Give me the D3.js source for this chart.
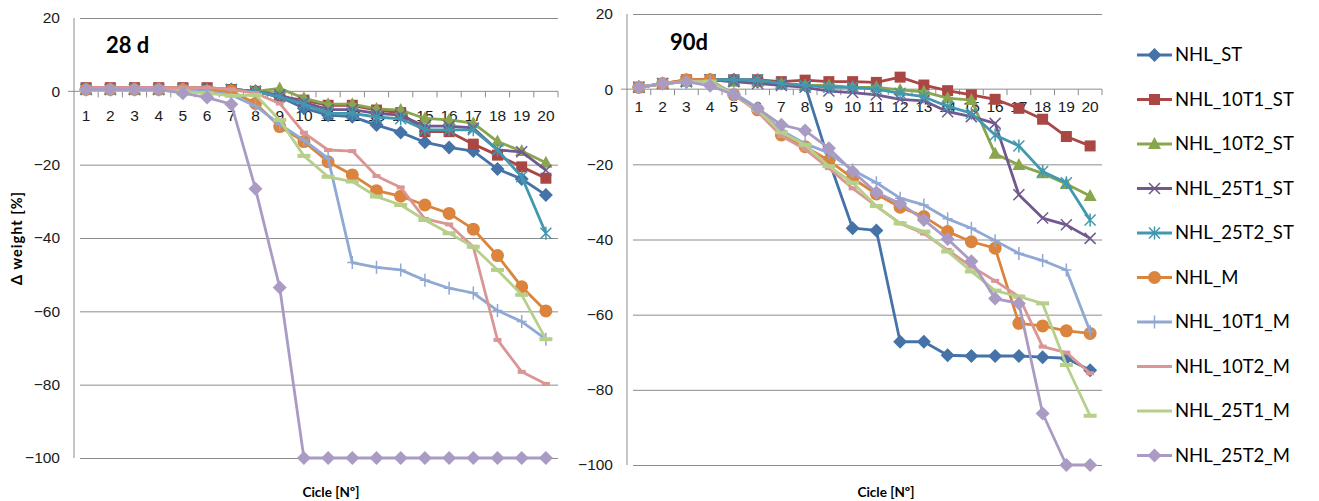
<!DOCTYPE html>
<html>
<head>
<meta charset="utf-8">
<script src="https://cdn.jsdelivr.net/npm/d3@7"></script>
<style>
  body { margin: 0; background: #fff; }
  svg { font-family: Lato, "Liberation Sans", sans-serif; }
</style>
</head>
<body>
<div id="chart"></div>
<script>
// categories
const cycles = [1, 2, 3, 4, 5, 6, 7, 8, 9, 10, 11, 12, 13, 14, 15, 16, 17, 18, 19, 20]
const yTicks = [20, 0, -20, -40, -60, -80, -100]
const seriesNames = ["NHL_ST", "NHL_10T1_ST", "NHL_10T2_ST", "NHL_25T1_ST", "NHL_25T2_ST",
    "NHL_M", "NHL_10T1_M", "NHL_10T2_M", "NHL_25T1_M", "NHL_25T2_M"]

// 28 d
const st_28 = [0.5, 0.5, 0.5, 0.5, 0.5, 0.5, 0.5, 0, -1.5, -4.6, -6.5, -6.9, -9.2, -11.2, -13.9, -15.3, -16.3, -21.2, -23.9, -28.3]
const t1st_10_28 = [1, 1, 1, 1, 1, 1, 0.5, 0, -1.5, -2.4, -3.8, -3.8, -5.1, -5.8, -11, -11, -14.4, -17.4, -20.6, -23.7]
const t2st_10_28 = [0.5, 0.5, 0.5, 0.5, 0.5, 0.5, 0.5, 0, 0.8, -1.9, -3.5, -3.5, -4.8, -5.1, -7.4, -7.8, -8.7, -13.7, -16.3, -19.5]
const t1st_25_28 = [0.5, 0.5, 0.5, 0.5, 0.5, 0.5, 0.5, 0, -1, -3, -5, -5, -6, -6.5, -9.5, -9.5, -10, -16, -16.5, -21.5]
const t2st_25_28 = [0.5, 0.5, 0.5, 0.5, 0.5, 0.5, 0.5, 0, -1.5, -3.5, -6, -6, -7, -7.5, -10.5, -10.5, -10.5, -16, -23.3, -38.7]
const m_28 = [0.5, 0.5, 0.5, 0.5, 0.5, 0, 0, -3.3, -9.6, -13.7, -19.2, -22.8, -27.1, -28.6, -31, -33.3, -37.6, -44.8, -53.3, -59.9]
const t1m_10_28 = [0.5, 0.5, 0.5, 0.5, 0.5, 0, -1, -4, -9, -13.3, -18.3, -46.7, -48, -48.7, -51.5, -53.7, -55, -59.8, -62.8, -67.6]
const t2m_10_28 = [1, 1, 1, 1, 1, 1, 0.5, -0.5, -3.3, -11.3, -16, -16.3, -23.1, -26.2, -34.8, -36.3, -42.4, -67.8, -76.5, -79.8]
const t1m_25_28 = [0.3, 0.3, 0.3, 0.3, 0, -0.5, -1.2, -1, -7.8, -17.6, -23.3, -24.6, -28.7, -31, -35.1, -38.7, -42.4, -48.7, -55.5, -67.6]
const t2m_25_28 = [0.5, 0.5, 0.5, 0.5, -0.5, -1.7, -3.5, -26.6, -53.5, -100, -100, -100, -100, -100, -100, -100, -100, -100, -100, -100]

// 90 d
const st_90 = [0.5, 1.5, 2, 2.5, 2.5, 2, 1.5, 1, -19, -37, -37.6, -67.2, -67.2, -70.8, -71, -71, -71, -71.3, -71.6, -74.8]
const t1st_10_90 = [0.5, 1.5, 2.5, 2.5, 2.5, 2.5, 2, 2.4, 2, 2, 1.8, 3.2, 1.1, -0.4, -1.5, -2.7, -5.1, -8, -12.6, -15.1]
const t2st_10_90 = [0.5, 1.5, 2, 2.5, 2, 2, 1.5, 1, 1, 0.5, 0.5, -0.2, -0.7, -2.4, -2.9, -17.2, -20.2, -22.4, -25.2, -28.4]
const t1st_25_90 = [0.5, 1.5, 2, 2.5, 2, 1.5, 1, 0.5, -0.5, -0.9, -1.5, -2.7, -3.1, -6, -7.3, -9.1, -28.1, -34.3, -36.1, -39.7]
const t2st_25_90 = [0.5, 1.5, 2, 2.5, 2.5, 2.5, 1.5, 1, 0.5, 0.5, 0, -1.1, -2, -4.6, -6.4, -12.2, -15.1, -21.9, -24.9, -34.8]
const m_90 = [0.5, 1.5, 2.5, 2.5, -1.5, -5.5, -12.2, -15.3, -19, -23.7, -27.9, -31.4, -33.9, -37.9, -40.6, -42.3, -62.3, -63, -64.3, -65]
const t1m_10_90 = [0.5, 1.5, 2, 2, -1, -5, -11, -14.5, -17, -21.5, -24.9, -29, -30.8, -34.5, -37, -40.3, -43.7, -45.6, -48.1, -64.5]
const t2m_10_90 = [0.5, 1.5, 2, 2, -1.5, -6, -12.5, -16, -21, -26.4, -31.1, -35.7, -38.4, -42.8, -47.2, -51, -55.2, -68.5, -70.1, -75.6]
const t1m_25_90 = [0.5, 1.5, 2, 2, -1.5, -5.5, -11.5, -14.8, -20.5, -24.9, -31.1, -35.7, -37.9, -43.2, -48.5, -53.6, -55.2, -57, -73.4, -86.9]
const t2m_25_90 = [0.5, 1.5, 2, 0.9, -1.5, -5.1, -9.5, -11, -15.7, -21.9, -27.5, -30.4, -34.8, -39.9, -45.8, -55.7, -57, -86.3, -100, -100]

const data28 = [st_28, t1st_10_28, t2st_10_28, t1st_25_28, t2st_25_28, m_28, t1m_10_28, t2m_10_28, t1m_25_28, t2m_25_28]
const data90 = [st_90, t1st_10_90, t2st_10_90, t1st_25_90, t2st_25_90, m_90, t1m_10_90, t2m_10_90, t1m_25_90, t2m_25_90]

// styles
const colors = ["#4572a7", "#aa4643", "#89a54e", "#71588f", "#4198af",
    "#db843d", "#8fa8d4", "#d99694", "#b6cf8a", "#a99bc4"]
const markers = ["diamond", "square", "triangle", "x", "star", "circle", "plus", "dash", "longdash", "diamond"]

function drawMarker(g, type, color) {
    if (type == "diamond") {
        g.append("path").attr("d", "M0,-7L7,0L0,7L-7,0Z").attr("fill", color)
    } else if (type == "square") {
        g.append("rect").attr("x", -5.5).attr("y", -5.5).attr("width", 11).attr("height", 11).attr("fill", color)
    } else if (type == "triangle") {
        g.append("path").attr("d", "M0,-7L6.5,5L-6.5,5Z").attr("fill", color)
    } else if (type == "circle") {
        g.append("circle").attr("r", 6.5).attr("fill", color)
    } else if (type == "x") {
        g.append("path").attr("d", "M-5.5,-5.5L5.5,5.5M-5.5,5.5L5.5,-5.5")
            .attr("stroke", color).attr("stroke-width", 1.5)
    } else if (type == "star") {
        g.append("path").attr("d", "M-5.5,-5.5L5.5,5.5M-5.5,5.5L5.5,-5.5M0,-6.5L0,6.5")
            .attr("stroke", color).attr("stroke-width", 1.5)
    } else if (type == "plus") {
        g.append("path").attr("d", "M0,-6.5L0,6.5M-5,0L5,0")
            .attr("stroke", color).attr("stroke-width", 1.5)
    } else if (type == "dash") {
        g.append("rect").attr("x", -4).attr("y", -2).attr("width", 8).attr("height", 4).attr("fill", color)
    } else if (type == "longdash") {
        g.append("rect").attr("x", -6.5).attr("y", -2).attr("width", 13).attr("height", 4).attr("fill", color)
    }
}

function drawChart() {

  //Draw Canvas
    const svg = d3.select("#chart")
        .append("svg")
            .attr("width", 1319)
            .attr("height", 501)

    const panels = [
        { title: "28 d", data: data28, left: 74, right: 558, top: 18, bottom: 458,
          titleX: 106, titleY: 53, labelGap: 27, axisTitleX: 331 },
        { title: "90d", data: data90, left: 627, right: 1102, top: 14, bottom: 465,
          titleX: 670, titleY: 50, labelGap: 20, axisTitleX: 886 },
    ]

    panels.forEach(p => {
        const xScale = d3.scaleBand()
            .domain(cycles)
            .range([p.left, p.right])
        const yScale = d3.scaleLinear()
            .domain([-100, 20])
            .range([p.bottom, p.top])

        const g = svg.append("g")

      //Gridlines and y axis
        const yAxis = g.append("g")
            .attr("transform", `translate(${p.left},0)`)
            .call(d3.axisLeft(yScale)
                .tickValues(yTicks)
                .tickSize(-(p.right - p.left))
                .tickPadding(14))
        yAxis.select(".domain").remove()
        yAxis.selectAll(".tick line")
            .attr("stroke", "#8c8c8c")
            .attr("x1", 6)
            .attr("stroke-width", 1)
        yAxis.selectAll(".tick").filter(d => d == 0).select("line").remove()
        yAxis.selectAll(".tick text")
            .attr("fill", "#1a1a1a")
            .style("font-size", "15.5px")

        g.append("line")
            .attr("x1", p.left).attr("x2", p.left)
            .attr("y1", p.top).attr("y2", p.bottom)
            .attr("stroke", "#8c8c8c")

      //X axis at zero
        const xAxis = g.append("g")
            .attr("transform", `translate(0,${yScale(0)})`)
            .call(d3.axisBottom(xScale).tickSize(0).tickPadding(p.labelGap - 8))
        xAxis.select(".domain")
            .attr("stroke", "#8c8c8c")
            .attr("d", `M${p.left - 6},0H${p.right}`)
        xAxis.selectAll(".tick text")
            .attr("fill", "#1a1a1a")
            .style("font-size", "15.5px")
        g.append("g")
            .selectAll("line")
            .data(cycles)
            .join("line")
                .attr("x1", d => xScale(d) + xScale.bandwidth())
                .attr("x2", d => xScale(d) + xScale.bandwidth())
                .attr("y1", yScale(0))
                .attr("y2", yScale(0) + 6)
                .attr("stroke", "#8c8c8c")

      //Draw Data
        const line = d3.line()
            .x((d, i) => xScale(cycles[i]) + xScale.bandwidth() / 2)
            .y(d => yScale(d))

        p.data.forEach((values, s) => {
            g.append("path")
                .datum(values)
                .attr("d", line)
                .attr("fill", "none")
                .attr("stroke", colors[s])
                .attr("stroke-width", 2.8)
                .attr("stroke-linejoin", "round")
            values.forEach((v, i) => {
                const m = g.append("g")
                    .attr("transform", `translate(${xScale(cycles[i]) + xScale.bandwidth() / 2},${yScale(v)})`)
                drawMarker(m, markers[s], colors[s])
            })
        })

      //Labels
        g.append("text")
            .attr("x", p.titleX)
            .attr("y", p.titleY)
            .attr("font-weight", 700)
            .style("font-size", "22px")
            .attr("fill", "#000")
            .text(p.title)

        g.append("text")
            .attr("x", p.axisTitleX)
            .attr("y", 497)
            .attr("text-anchor", "middle")
            .attr("font-weight", 700)
            .style("font-size", "13.5px")
            .attr("fill", "#000")
            .text("Cicle [Nº]")
    })

    svg.append("text")
        .attr("transform", "translate(22,238) rotate(-90)")
        .attr("text-anchor", "middle")
        .attr("font-weight", 700)
        .style("font-size", "14.5px")
        .style("letter-spacing", "1px")
        .attr("fill", "#000")
        .text("Δ weight [%]")

  //Legend
    const legend = svg.append("g")
    seriesNames.forEach((name, s) => {
        const y = 55 + 44.5 * s
        legend.append("line")
            .attr("x1", 1137).attr("x2", 1172)
            .attr("y1", y).attr("y2", y)
            .attr("stroke", colors[s])
            .attr("stroke-width", 2.8)
        if (markers[s] != "dash" && markers[s] != "longdash") {
            const m = legend.append("g").attr("transform", `translate(1154.5,${y})`)
            drawMarker(m, markers[s], colors[s])
        }
        legend.append("text")
            .attr("x", 1175)
            .attr("y", y)
            .attr("dy", "0.35em")
            .style("font-size", "18.5px")
            .attr("fill", "#000")
            .text(name)
    })
}

drawChart()
</script>
</body>
</html>
